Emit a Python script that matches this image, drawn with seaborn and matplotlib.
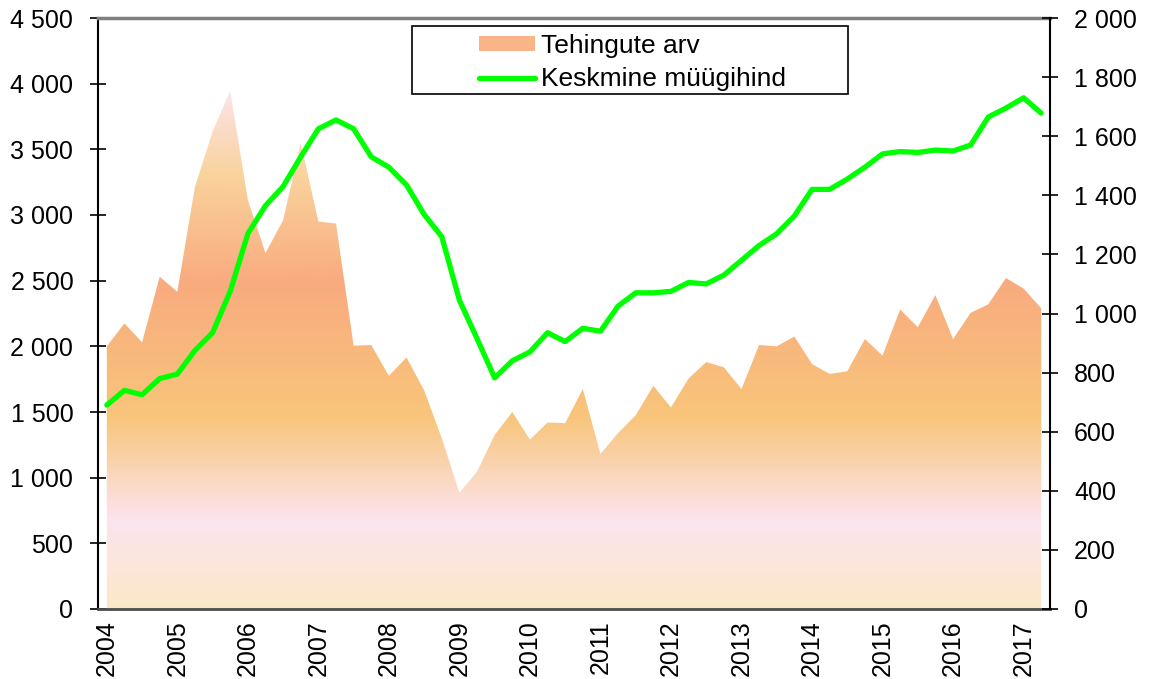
import numpy as np
import pandas as pd
import matplotlib
matplotlib.use('Agg')
import matplotlib.pyplot as plt
import seaborn as sns
from matplotlib.colors import LinearSegmentedColormap
from matplotlib.ticker import FuncFormatter, FixedLocator
from matplotlib.patches import Rectangle, Patch
from matplotlib.lines import Line2D

# quarterly data 2004 Q1 - 2017 Q2
quarters = [f'{y} Q{q}' for y in range(2004, 2018) for q in range(1, 5)][:54]
year_labels = [str(y) for y in range(2004, 2018)]

tehingud = [2000, 2175, 2030, 2530, 2415, 3215, 3635, 3945, 3115, 2710,
            2960, 3550, 2950, 2935, 2005, 2010, 1775, 1915, 1665, 1300,
            885, 1045, 1325, 1500, 1290, 1420, 1415, 1675, 1180, 1340,
            1475, 1700, 1535, 1755, 1880, 1840, 1675, 2010, 2000, 2075,
            1865, 1790, 1810, 2055, 1930, 2280, 2145, 2390, 2055, 2255,
            2320, 2520, 2440, 2290]

hind = [690, 740, 725, 780, 795, 875, 935, 1075, 1270, 1365,
        1430, 1530, 1625, 1655, 1625, 1530, 1495, 1435, 1335, 1260,
        1045, 915, 782, 840, 870, 935, 905, 950, 940, 1025,
        1070, 1070, 1075, 1105, 1100, 1130, 1180, 1230, 1270, 1330,
        1420, 1420, 1455, 1495, 1540, 1548, 1545, 1553, 1550, 1570,
        1665, 1695, 1730, 1678]

df = pd.DataFrame({'kvartal': quarters, 'pos': np.arange(len(quarters)),
                   'tehingud': tehingud, 'hind': hind})

sns.set_style('white')
plt.rcParams['font.family'] = ['Liberation Sans', 'DejaVu Sans']
plt.rcParams['text.color'] = 'black'
plt.rcParams['xtick.color'] = 'black'
plt.rcParams['ytick.color'] = 'black'

fig = plt.figure(figsize=(11.49, 6.79), dpi=100)
ax = fig.add_axes([98 / 1149, 1 - 609 / 679, 952 / 1149, 591 / 679])

# area with vertical gradient fill
grad_cmap = LinearSegmentedColormap.from_list('tehingud', [
    (0.00, '#FBE8C8'), (0.17, '#FCE4EE'), (0.37, '#F8C57A'),
    (0.63, '#F9AB7F'), (0.84, '#F9D39D'), (1.00, '#FDE3EA')])
poly = ax.fill_between(df['pos'], df['tehingud'], 0, color='none', lw=0)
grad = np.linspace(0, 1, 256).reshape(-1, 1)
img = ax.imshow(grad, cmap=grad_cmap, origin='lower', aspect='auto',
                extent=[-0.5, len(df) - 0.5, 0, df['tehingud'].max()], zorder=1)
img.set_clip_path(poly.get_paths()[0], transform=ax.transData)

ax.set_xlim(-0.5, len(df) - 0.5)
ax.set_ylim(0, 4500)
ax.set_yticks(np.arange(0, 4501, 500))

fmt = FuncFormatter(lambda v, p: f'{int(v):,}'.replace(',', ' '))
ax.yaxis.set_major_formatter(fmt)

# ticks at category boundaries, year labels at Q1 centres
ax.xaxis.set_major_locator(FixedLocator(np.arange(0.5, len(df) - 0.5, 1)))
ax.xaxis.set_major_formatter(FuncFormatter(lambda v, p: ''))
ax.xaxis.set_minor_locator(FixedLocator(np.arange(0, len(df), 4)))
ax.set_xticklabels(year_labels, minor=True, rotation=90)
ax.tick_params(axis='x', which='major', direction='inout', length=11, width=1.2, color='black')
ax.tick_params(axis='x', which='minor', length=0, pad=8, labelsize=18, labelcolor='black')
ax.tick_params(axis='y', direction='inout', length=11.5, width=1.2, color='black',
               pad=12, labelsize=18, left=True, labelcolor='black')

# price line on secondary axis
ax2 = ax.twinx()
sns.lineplot(data=df, x='pos', y='hind', ax=ax2, color='#00FF00', lw=3.8,
             legend=False, solid_joinstyle='round', solid_capstyle='round')
ax2.set_ylim(0, 2000)
ax2.set_yticks(np.arange(0, 2001, 200))
ax2.yaxis.set_major_formatter(fmt)
ax2.set_xlim(-0.5, len(df) - 0.5)
ax2.set_xlabel('')
ax2.set_ylabel('')
ax.set_xlabel('')
ax2.tick_params(axis='y', direction='inout', length=11.5, width=1.2, color='black',
                pad=11.5, labelsize=18, right=True, labelcolor='black')

for a in (ax, ax2):
    for s in a.spines.values():
        s.set_visible(False)
ax.spines['left'].set_visible(True)
ax.spines['left'].set_color('black')
ax.spines['left'].set_linewidth(1.5)
ax.spines['bottom'].set_visible(True)
ax.spines['bottom'].set_color('#4d4d4d')
ax.spines['bottom'].set_linewidth(2)
ax.spines['top'].set_visible(True)
ax.spines['top'].set_color('#808080')
ax.spines['top'].set_linewidth(2.5)
ax2.spines['right'].set_visible(True)
ax2.spines['right'].set_color('black')
ax2.spines['right'].set_linewidth(1.5)

# legend
fig.add_artist(Rectangle((412 / 1149, 1 - 94 / 679), 436 / 1149, 68 / 679,
                         transform=fig.transFigure, facecolor='white',
                         edgecolor='black', lw=1.2, zorder=5))
handles = [Patch(facecolor='#F9B488', edgecolor='none'),
           Line2D([], [], color='#00FF00', lw=3.8, solid_capstyle='round')]
leg = fig.legend(handles, ['Tehingute arv', 'Keskmine müügihind'],
                 loc='upper left', bbox_to_anchor=(466 / 1149, 1 - 21 / 679),
                 frameon=False, fontsize=19, borderpad=0, handlelength=2.1,
                 handletextpad=0.25, labelspacing=0.35, handleheight=0.5)
leg.set_zorder(6)

fig.savefig('out.png', dpi=100)
